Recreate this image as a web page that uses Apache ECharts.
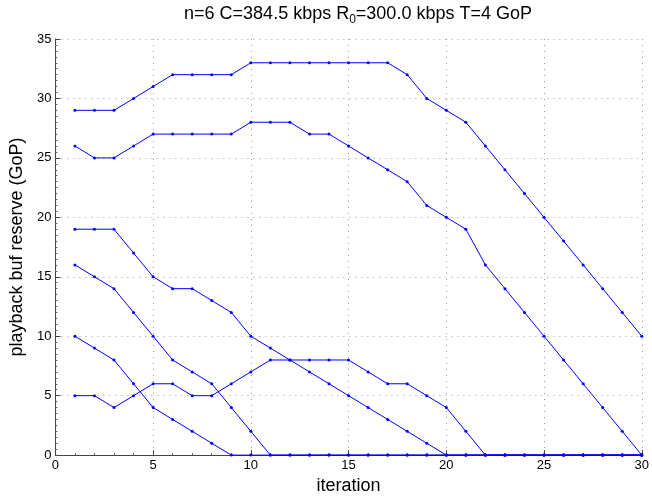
<!DOCTYPE html>
<html>
<head>
<meta charset="utf-8">
<script src="https://cdn.jsdelivr.net/npm/echarts@6/dist/echarts.min.js"></script>
<style>html,body{margin:0;padding:0;background:#fff}#c{width:652px;height:500px}</style>
</head>
<body>
<div id="c"></div>
<script>
var iterations = [1,2,3,4,5,6,7,8,9,10,11,12,13,14,15,16,17,18,19,20,21,22,23,24,25,26,27,28,29,30];
var seriesA = [29,29,29,30,31,32,32,32,32,33,33,33,33,33,33,33,33,32,30,29,28,26,24,22,20,18,16,14,12,10];
var seriesB = [26,25,25,26,27,27,27,27,27,28,28,28,27,27,26,25,24,23,21,20,19,16,14,12,10,8,6,4,2,0];
var seriesC = [19,19,19,17,15,14,14,13,12,10,9,8,7,6,5,4,3,2,1,0,0,0,0,0,0,0,0,0,0,0];
var seriesD = [16,15,14,12,10,8,7,6,4,2,0,0,0,0,0,0,0,0,0,0,0,0,0,0,0,0,0,0,0,0];
var seriesE = [10,9,8,6,4,3,2,1,0,0,0,0,0,0,0,0,0,0,0,0,0,0,0,0,0,0,0,0,0,0];
var seriesF = [5,5,4,5,6,6,5,5,6,7,8,8,8,8,8,7,6,6,5,4,2,0,0,0,0,0,0,0,0,0];
var allSeries = [seriesA, seriesB, seriesC, seriesD, seriesE, seriesF];

var chart = echarts.init(document.getElementById('c'), null, {renderer: 'canvas'});
var font = 'Liberation Sans, Arial, Helvetica, sans-serif';
function mk(vals){
  return {
    type: 'line',
    data: iterations.map(function(x,i){return [x, vals[i]];}),
    symbol: 'circle', symbolSize: 3, showSymbol: true,
    lineStyle: {color: '#0000ff', width: 1},
    itemStyle: {color: '#0000ff'},
    animation: false, clip: false
  };
}
chart.setOption({
  animation: false,
  title: {
    text: 'n=6 C=384.5 kbps R{s|0}=300.0 kbps T=4 GoP',
    left: 353, textAlign: 'center', top: -3,
    textStyle: {fontFamily: font, fontSize: 18, fontWeight: 'normal', color: '#000',
      rich: {s: {fontFamily: font, fontSize: 12, padding: [12,0,0,0], color: '#000'}}}
  },
  grid: {left: 51, right: 7, top: 39, bottom: 39},
  xAxis: {
    type: 'value', min: 0, max: 30, interval: 5,
    name: 'iteration', nameLocation: 'middle', nameGap: 20,
    nameTextStyle: {fontFamily: font, fontSize: 18, color: '#000'},
    axisLine: {show: true, lineStyle: {color: '#444', width: 1}},
    axisTick: {show: true, inside: true, length: 5, lineStyle: {color: '#444'}},
    minorTick: {show: true, splitNumber: 5, length: 2, lineStyle: {color: '#666'}},
    axisLabel: {fontFamily: font, fontSize: 13, color: '#000', margin: 4},
    splitLine: {show: true, lineStyle: {color: '#999', type: [1, 5], width: 1}}
  },
  yAxis: {
    type: 'value', min: 0, max: 35, interval: 5,
    name: 'playback buf reserve (GoP)', nameLocation: 'middle', nameGap: 26,
    nameTextStyle: {fontFamily: font, fontSize: 18, color: '#000'},
    axisLine: {show: true, lineStyle: {color: '#444', width: 1}},
    axisTick: {show: true, inside: true, length: 5, lineStyle: {color: '#444'}},
    minorTick: {show: true, splitNumber: 10, length: 2, lineStyle: {color: '#666'}},
    axisLabel: {fontFamily: font, fontSize: 13, color: '#000', margin: 4},
    splitLine: {show: true, lineStyle: {color: '#999', type: [1, 5], width: 1}}
  },
  series: allSeries.map(mk)
});
</script>
</body>
</html>
